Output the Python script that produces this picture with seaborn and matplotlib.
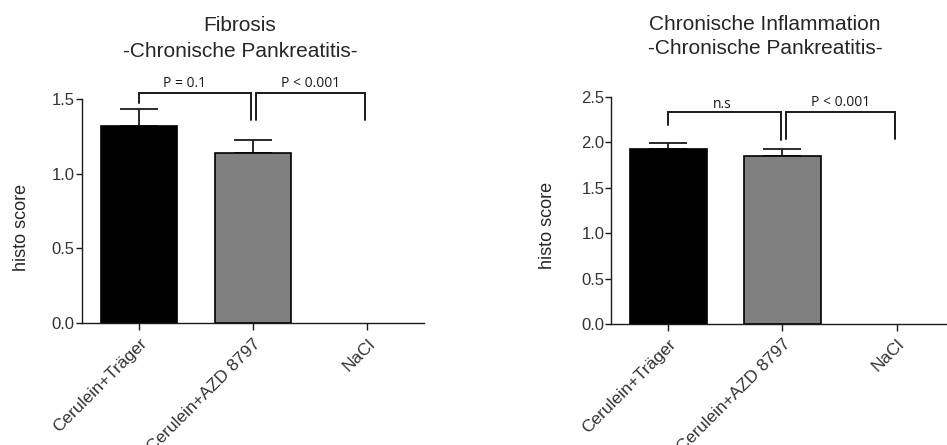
"""Histo scores, chronic pancreatitis: fibrosis and chronic inflammation."""
import matplotlib
matplotlib.use("Agg")
import matplotlib.pyplot as plt
import seaborn as sns

sns.set_style("white")
plt.rcParams["font.family"] = ["Liberation Sans", "DejaVu Sans"]

GROUPS = ["Cerulein+Träger", "Cerulein+AZD 8797", "NaCl"]
COLORS = ["#000000", "#808080", "#ffffff"]

FIB_MEAN = [1.32, 1.14, 0.0]
FIB_SEM = [0.11, 0.085, 0.0]
INF_MEAN = [1.925, 1.85, 0.0]
INF_SEM = [0.07, 0.08, 0.0]

# brackets: (group a, group b, label, bar height, leg a end, leg b end, label x, label y)
FIB_BRACKETS = [
    (0, 1, "P = 0.1", 1.54, 1.47, 1.36, 0.40, 1.576),
    (1, 2, "P < 0.001", 1.54, 1.36, 1.36, 1.51, 1.576),
]
INF_BRACKETS = [
    (0, 1, "n.s", 2.33, 2.19, 2.025, 0.475, 2.373),
    (1, 2, "P < 0.001", 2.33, 2.03, 2.03, 1.51, 2.398),
]

INK = "#1a1a1a"
TICK_INK = "#333333"


def panel(ax, means, sems, brackets, ymax, title, title_x, title_y):
    sns.barplot(x=GROUPS, y=means, hue=GROUPS, palette=COLORS, legend=False,
                edgecolor="black", linewidth=1.2, width=0.67, ax=ax, zorder=2)
    # empty (zero) bars: no outline on top of the axis
    for p in ax.patches:
        if p.get_height() == 0:
            p.set_linewidth(0)
    # upper-only SEM bars, skipped where there is no spread
    idx = [i for i, s in enumerate(sems) if s > 0]
    ax.errorbar(idx, [means[i] for i in idx],
                yerr=[[0] * len(idx), [sems[i] for i in idx]],
                fmt="none", ecolor=INK, elinewidth=1.3, capsize=14,
                capthick=1.3, zorder=1)
    ax.set_xlim(-0.5, len(GROUPS) - 0.5)
    ax.set_ylim(0, ymax)
    ticks = [i * 0.5 for i in range(int(ymax / 0.5) + 1)]
    ax.set_yticks(ticks)
    ax.set_yticklabels([f"{t:.1f}" for t in ticks], fontsize=12, color=TICK_INK)
    ax.set_xticks(range(len(GROUPS)))
    ax.set_xticklabels(GROUPS, rotation=45, ha="right", rotation_mode="anchor",
                       fontsize=12.5, color=TICK_INK)
    ax.tick_params(axis="y", left=True, length=4, width=1.0, color=INK, pad=1)
    ax.tick_params(axis="x", bottom=True, length=5, width=1.0, color=INK, pad=4)
    for side in ("top", "right"):
        ax.spines[side].set_visible(False)
    for side in ("left", "bottom"):
        ax.spines[side].set_color(INK)
        ax.spines[side].set_linewidth(1.0)
    ax.set_xlabel("")
    ax.set_ylabel("histo score", fontsize=13)

    gap = 0.015
    for a, b, label, top, end_a, end_b, lx, ly in brackets:
        xa = a + (2 * gap if a > 0 else 0)
        xb = b - gap
        ax.plot([xa, xa, xb, xb], [end_a, top, top, end_b], color=INK,
                lw=1.4, clip_on=False, solid_joinstyle="miter")
        ax.text(lx, ly, label, ha="center", va="baseline", fontsize=10,
                family=["Open Sans", "DejaVu Sans"], color=INK, clip_on=False)

    fig = ax.figure
    for line, y in zip(title, title_y):
        fig.text(title_x, y, line, ha="center", va="baseline", fontsize=15)


fig = plt.figure(figsize=(9.47, 4.45), dpi=100)
ax1 = fig.add_axes([0.0863, 0.2735, 0.3615, 0.5047])
ax2 = fig.add_axes([0.6455, 0.2719, 0.3615, 0.5108])

panel(ax1, FIB_MEAN, FIB_SEM, FIB_BRACKETS, 1.5,
      ["Fibrosis", "-Chronische Pankreatitis-"], 0.2534, [0.931, 0.8726])
panel(ax2, INF_MEAN, INF_SEM, INF_BRACKETS, 2.5,
      ["Chronische Inflammation", "-Chronische Pankreatitis-"], 0.8078,
      [0.9326, 0.8787])

ax1.yaxis.set_label_coords(-0.151, 0.429)
ax2.yaxis.set_label_coords(-0.161, 0.435)

fig.savefig("out.png", dpi=100)
